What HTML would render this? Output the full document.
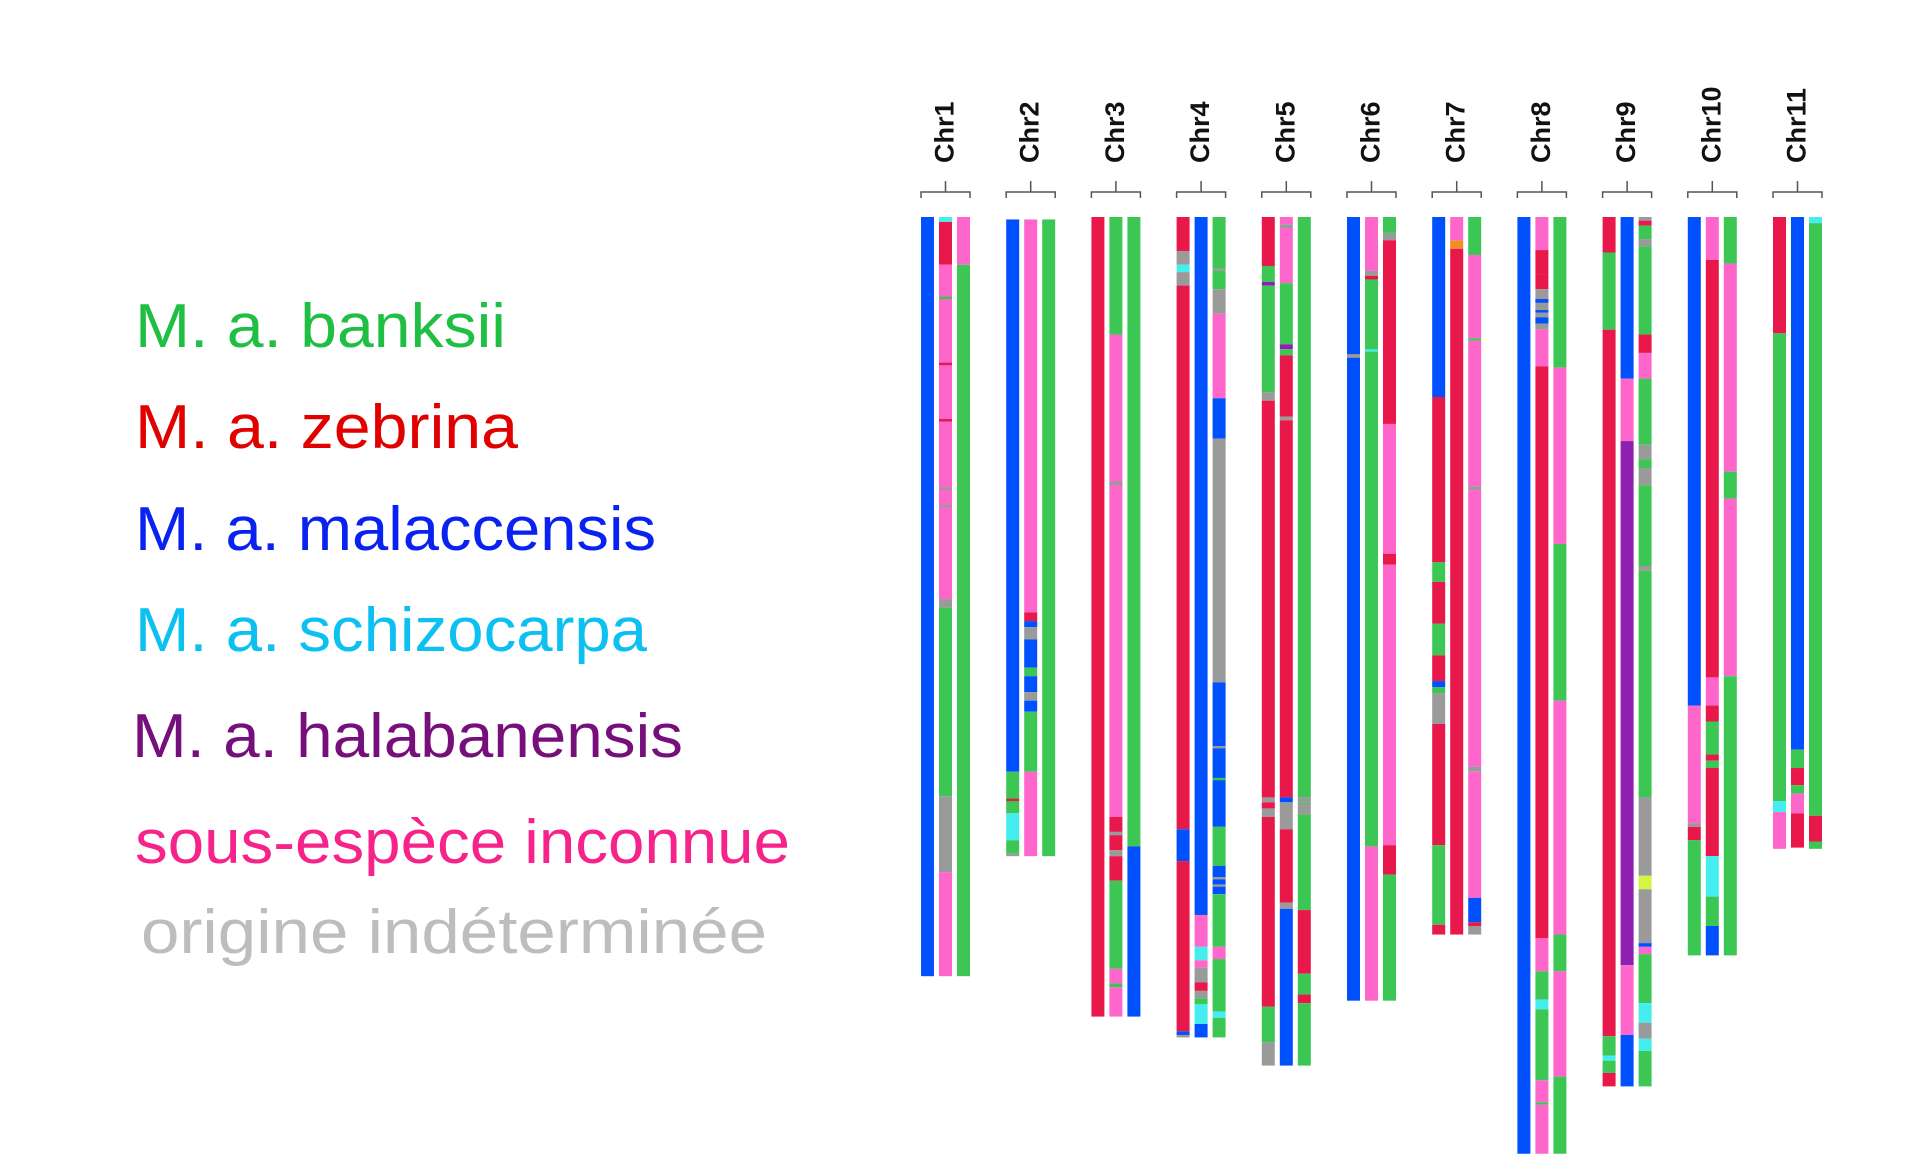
<!DOCTYPE html>
<html><head><meta charset="utf-8">
<style>
html,body{margin:0;padding:0;background:#fff;}
svg{display:block;}
</style></head>
<body>
<svg id="chart" width="1920" height="1175" viewBox="0 0 1920 1175" xmlns="http://www.w3.org/2000/svg">
<g id="legend" font-family="'Liberation Sans', sans-serif" font-size="62">
<text x="135" y="347" fill="#1fbf44" textLength="371" lengthAdjust="spacingAndGlyphs">M. a. banksii</text>
<text x="135" y="448" fill="#e00000" textLength="383" lengthAdjust="spacingAndGlyphs">M. a. zebrina</text>
<text x="135" y="550" fill="#0a22f0" textLength="521" lengthAdjust="spacingAndGlyphs">M. a. malaccensis</text>
<text x="135" y="651" fill="#0cc0f2" textLength="512" lengthAdjust="spacingAndGlyphs">M. a. schizocarpa</text>
<text x="132" y="757" fill="#760e7c" textLength="551" lengthAdjust="spacingAndGlyphs">M. a. halabanensis</text>
<text x="135" y="863" fill="#f5238a" textLength="655" lengthAdjust="spacingAndGlyphs">sous-espèce inconnue</text>
<text x="141" y="953" fill="#bdbdbd" textLength="626" lengthAdjust="spacingAndGlyphs">origine indéterminée</text>
</g>
<g id="chroms"></g>
</svg>
<script>
const chromNames = ["Chr1","Chr2","Chr3","Chr4","Chr5","Chr6","Chr7","Chr8","Chr9","Chr10","Chr11"];
const palette = {B:"#0050fe",R:"#e8194a",P:"#ff66cc",G:"#3cc755",Y:"#9a9a9a",C:"#44eeee",V:"#8e1fb0",O:"#f28c28",L:"#d4f542"};
// segments: [start, end, ancestry] per haplotype bar, positions in chromosome units
const chr1 = [
 [[0,62,"B"]],
 [[0,0.4,"C"],[0.4,3.9,"R"],[3.9,31.2,"P"],[6.5,6.7,"G"],[11.9,12.1,"R"],[16.5,16.7,"R"],[22.1,22.3,"Y"],[23.5,23.7,"Y"],[31.2,31.9,"Y"],[31.9,47.3,"G"],[47.3,53.5,"Y"],[53.5,62,"P"]],
 [[0,3.9,"P"],[3.9,62,"G"]]
];
const chr2 = [
 [[0.2,45.3,"B"],[45.3,48.7,"G"],[47.5,47.7,"R"],[48.7,50.9,"C"],[50.9,52,"G"],[52,52.2,"Y"]],
 [[0.2,32.3,"P"],[32.3,33,"R"],[33,33.5,"B"],[33.5,34.5,"Y"],[34.5,36.8,"B"],[36.8,37.5,"G"],[37.5,38.8,"B"],[38.8,39.5,"Y"],[39.5,40.4,"B"],[40.4,45.3,"G"],[45.3,52.2,"P"]],
 [[0.2,52.2,"G"]]
];
const chr3 = [
 [[0,65.3,"R"]],
 [[0,9.6,"G"],[9.6,49,"P"],[21.6,21.9,"Y"],[49,51.7,"R"],[50.2,50.5,"Y"],[51.7,52.2,"Y"],[52.2,54.2,"R"],[54.2,61.4,"G"],[61.4,62.6,"P"],[62.6,62.9,"G"],[62.9,65.3,"P"]],
 [[0,51.4,"G"],[51.4,65.3,"B"]]
];
const chr4 = [
 [[0,2.8,"R"],[2.8,3.9,"Y"],[3.9,4.5,"C"],[4.5,5.6,"Y"],[5.6,50,"R"],[50,52.6,"B"],[52.6,66.5,"R"],[66.5,66.8,"B"],[66.8,67,"Y"]],
 [[0,57,"B"],[57,59.6,"P"],[59.6,60.7,"C"],[60.7,61.3,"P"],[61.3,62.5,"Y"],[62.5,63.2,"R"],[63.2,63.8,"Y"],[63.8,64.3,"G"],[64.3,65.9,"C"],[65.9,67,"B"]],
 [[0,4.2,"G"],[4.2,4.4,"Y"],[4.4,5.9,"G"],[5.9,7.9,"Y"],[7.9,14.8,"P"],[14.8,18.1,"B"],[18.1,38,"Y"],[38,49.8,"B"],[43.2,43.4,"Y"],[45.8,46,"G"],[49.8,53,"G"],[53,55.3,"B"],[53.9,54.1,"Y"],[54.5,54.7,"Y"],[55.3,59.6,"G"],[59.6,60.6,"P"],[60.6,64.9,"G"],[64.9,65.4,"C"],[65.4,67,"G"]]
];
const chr5 = [
 [[0,4,"R"],[4,5.3,"G"],[5.3,5.6,"V"],[5.6,14.3,"G"],[14.3,15,"Y"],[15,47.4,"R"],[47.4,47.8,"Y"],[47.8,48.3,"R"],[48.3,49,"Y"],[49,64.5,"R"],[64.5,67.4,"G"],[67.4,69.3,"Y"]],
 [[0,0.6,"P"],[0.6,0.9,"Y"],[0.9,5.4,"P"],[5.4,10.4,"G"],[10.4,10.8,"V"],[10.8,11.3,"G"],[11.3,16.3,"R"],[16.3,16.6,"Y"],[16.6,47.4,"R"],[47.4,47.8,"B"],[47.8,50,"Y"],[50,56,"R"],[56,56.5,"Y"],[56.5,69.3,"B"]],
 [[0,47.4,"G"],[47.4,47.8,"Y"],[47.8,47.9,"G"],[47.9,48.8,"Y"],[48.8,56.6,"G"],[56.6,61.8,"R"],[61.8,63.5,"G"],[63.5,64.2,"R"],[64.2,69.3,"G"]]
];
const chr6 = [
 [[0,64,"B"],[11.2,11.5,"Y"]],
 [[0,4.4,"P"],[4.4,4.8,"Y"],[4.8,5.1,"R"],[5.1,51.4,"G"],[10.8,11,"C"],[51.4,64,"P"]],
 [[0,1.3,"G"],[1.3,1.9,"Y"],[1.9,16.9,"R"],[16.9,27.5,"P"],[27.5,28.4,"R"],[28.4,51.3,"P"],[51.3,53.7,"R"],[53.7,64,"G"]]
];
const chr7 = [
 [[0,14.7,"B"],[14.7,28.2,"R"],[28.2,29.8,"G"],[29.8,33.2,"R"],[33.2,35.8,"G"],[35.8,37.9,"R"],[37.9,38.4,"B"],[38.4,38.9,"G"],[38.9,41.4,"Y"],[41.4,51.3,"R"],[51.3,57.8,"G"],[57.8,58.6,"R"]],
 [[0,1.9,"P"],[1.9,2.6,"O"],[2.6,58.6,"R"]],
 [[0,3.1,"G"],[3.1,9.9,"P"],[9.9,10.1,"G"],[10.1,22,"P"],[22,22.3,"Y"],[22.3,44.9,"P"],[44.9,45.3,"Y"],[45.3,55.6,"P"],[55.6,57.6,"B"],[57.6,57.9,"R"],[57.9,58.6,"Y"]]
];
const chr8 = [
 [[0,76.5,"B"]],
 [[0,2.7,"P"],[2.7,4.7,"R"],[4.7,5.9,"R"],[5.9,8.7,"Y"],[6.7,7,"B"],[7.6,7.8,"B"],[8.2,8.7,"B"],[8.7,9.2,"Y"],[9.2,12.2,"P"],[12.2,58.9,"R"],[58.9,61.6,"P"],[61.6,63.9,"G"],[63.9,64.7,"C"],[64.7,70.5,"G"],[70.5,72.3,"P"],[72.3,72.5,"G"],[72.5,76.5,"P"]],
 [[0,12.3,"G"],[12.3,26.7,"P"],[26.7,39.5,"G"],[39.5,58.6,"P"],[58.6,61.6,"G"],[61.6,70.2,"P"],[70.2,76.5,"G"]]
];
const chr9 = [
 [[0,2.9,"R"],[2.9,9.2,"G"],[9.2,66.9,"R"],[66.9,68.5,"G"],[68.5,68.9,"C"],[68.9,69.9,"G"],[69.9,71,"R"]],
 [[0,13.2,"B"],[13.2,18.3,"P"],[18.3,61.1,"V"],[61.1,66.8,"P"],[66.8,71,"B"]],
 [[0,0.3,"Y"],[0.3,0.7,"R"],[0.7,1.8,"G"],[1.8,2.4,"Y"],[2.4,9.6,"G"],[9.6,11.1,"R"],[11.1,13.2,"P"],[13.2,18.6,"G"],[18.6,19.8,"Y"],[19.8,20.5,"G"],[20.5,21.9,"Y"],[21.9,28.5,"G"],[28.5,28.9,"Y"],[28.9,47.4,"G"],[47.4,53.8,"Y"],[53.8,54.9,"L"],[54.9,59.3,"Y"],[59.3,59.6,"B"],[59.6,60.2,"P"],[60.2,64.2,"G"],[64.2,65.8,"C"],[65.8,67.1,"Y"],[67.1,68.1,"C"],[68.1,71,"G"]]
];
const chr10 = [
 [[0,39.9,"B"],[39.9,49.5,"P"],[49.5,49.8,"Y"],[49.8,50.9,"R"],[50.9,60.3,"G"]],
 [[0,3.5,"P"],[3.5,37.6,"R"],[37.6,39.9,"P"],[39.9,41.2,"R"],[41.2,43.9,"G"],[43.9,44.4,"R"],[44.4,45,"G"],[45,52.2,"R"],[52.2,55.5,"C"],[55.5,57.9,"G"],[57.9,60.3,"B"]],
 [[0,3.8,"G"],[3.8,20.8,"P"],[20.8,23,"G"],[23,37.5,"P"],[37.5,60.3,"G"]]
];
const chr11 = [
 [[0,9.5,"R"],[9.5,47.7,"G"],[47.7,48.6,"C"],[48.6,51.6,"P"]],
 [[0,43.5,"B"],[43.5,45,"G"],[45,46.4,"R"],[46.4,47.1,"G"],[47.1,48.7,"P"],[48.7,51.5,"R"]],
 [[0,0.5,"C"],[0.5,48.9,"G"],[48.9,51,"R"],[51,51.6,"G"]]
];
const chromData = [chr1,chr2,chr3,chr4,chr5,chr6,chr7,chr8,chr9,chr10,chr11];

const NS = "http://www.w3.org/2000/svg";
const g = document.getElementById("chroms");
const yTop = 217, unitPx = 12.245;
const yScale = v => yTop + v * unitPx;
const x0 = 921, groupStep = 85.2, barW = 13, barStep = 18;
const groupX = i => x0 + i * groupStep;
const barX = (i, j) => groupX(i) + j * barStep;

chromNames.forEach((name, i) => {
  const grp = document.createElementNS(NS, "g");
  
  
  g.appendChild(grp);
  const left = groupX(i), right = groupX(i) + 2 * barStep + barW, cx = (left + right) / 2;
  const lbl = document.createElementNS(NS, "text");
  
  
  lbl.setAttribute("transform", `translate(${cx + 8},163) rotate(-90)`);
  lbl.setAttribute("font-family", "'Liberation Sans', sans-serif");
  lbl.setAttribute("font-weight", "bold");
  lbl.setAttribute("font-size", "27");
  lbl.setAttribute("fill", "#111");
  lbl.textContent = name;
  grp.appendChild(lbl);
  const br = document.createElementNS(NS, "path");
  
  
  br.setAttribute("d", `M${left},198 V192 H${right} V198 M${cx},192 V181`);
  br.setAttribute("fill", "none");
  br.setAttribute("stroke", "#555");
  br.setAttribute("stroke-width", "1.5");
  grp.appendChild(br);
  chromData[i].forEach((bar, j) => {
    bar.forEach(seg => {
      const r = document.createElementNS(NS, "rect");
      
      
      const y1 = yScale(seg[0]), y2 = yScale(seg[1]);
      r.setAttribute("x", barX(i, j));
      r.setAttribute("y", y1);
      r.setAttribute("width", barW);
      r.setAttribute("height", Math.max(1.5, y2 - y1));
      r.setAttribute("fill", palette[seg[2]]);
      grp.appendChild(r);
    });
  });
});
</script>
</body></html>
